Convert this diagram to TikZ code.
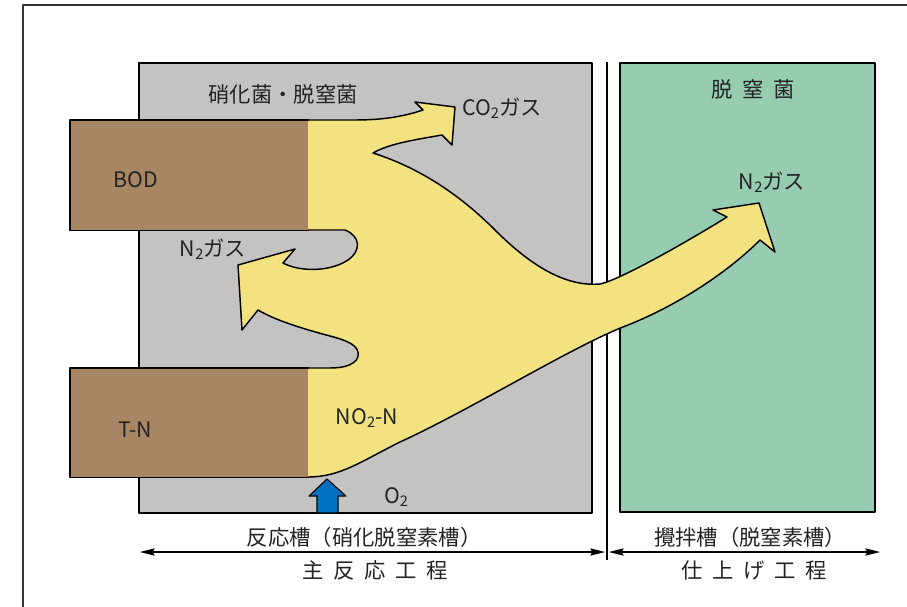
\documentclass[tikz,border=0pt]{standalone}
\usepackage{fontspec}
\setmainfont{Noto Sans CJK JP}
\usetikzlibrary{arrows.meta}
\definecolor{graybg}{RGB}{197,194,194}
\definecolor{greenbg}{RGB}{150,205,178}
\definecolor{brownbg}{RGB}{168,133,99}
\definecolor{yelbg}{RGB}{242,226,128}
\definecolor{blueo}{RGB}{0,112,192}
\definecolor{inkc}{RGB}{35,35,35}
\newcommand\subtwo{\raisebox{-0.12em}{\fontsize{11}{11}\selectfont 2}}
\newcommand\yelpathA{(308,120) -- (355,120) .. controls (385,120) and (405,116) .. (423,110) -- (415,102) -- (455,107) -- (452,145) -- (442,135) .. controls (420,139) and (390,143) .. (373,153) .. controls (420,168) and (460,195) .. (495,230) .. controls (530,265) and (565,287) .. (600,284) .. controls (620,280) and (690,240) .. (727,217) -- (713,210) -- (759,203) -- (775,252) -- (760,240) .. controls (730,270) and (680,305) .. (623,327) .. controls (570,348) and (470,410) .. (400,442) .. controls (360,462) and (340,477) .. (308,477)}
\newcommand\yelpathB{(308,368) -- (330,368) .. controls (352,368) and (360,360) .. (358,352) .. controls (356,344) and (345,340) .. (330,336) .. controls (300,328) and (275,320) .. (258,310) -- (242,330) -- (238,265) -- (295,249) -- (283,263) .. controls (300,272) and (330,272) .. (348,260) .. controls (362,250) and (360,236) .. (345,230) -- (308,230)}
\begin{document}
\begin{tikzpicture}[x=0.75pt,y=-0.75pt,line join=round,
  outl/.style={draw=black,line width=1.1pt},
  lbl/.style={font=\fontsize{16}{18}\selectfont,inner sep=0pt,text=inkc},
  spaced/.style={font=\fontsize{16}{18}\selectfont\addfontfeature{LetterSpace=45},inner sep=0pt,text=inkc},
  brownbox/.style={fill=brownbg,inner sep=0pt,anchor=north west,minimum width=178.5pt},
  dimarrow/.style={line width=0.8pt,{Stealth[length=11pt,width=5.5pt,inset=1.5pt]}-{Stealth[length=11pt,width=5.5pt,inset=1.5pt]}}]
\useasboundingbox (0,0) rectangle (907,607);
% outer frame
\draw[line width=1.1pt,black!80] (23,620) -- (23,5) -- (920,5);
% tanks
\draw[outl,fill=graybg] (139,63) rectangle (592,513);
\draw[outl,fill=greenbg] (620,63) rectangle (875,512);
\coordinate (vt) at (607,62);
\coordinate (vb) at (607,560);
\draw[line width=0.8pt] (vt) -- (vb);
% yellow flow
\fill[yelbg] \yelpathA -- \yelpathB -- cycle;
% brown inputs
\node[brownbox,minimum height=82.5pt] (bod) at (70,120) {};
\node[brownbox,minimum height=81.75pt] (tn) at (70,368) {};
% outlines
\draw[outl] \yelpathA;
\draw[outl] \yelpathB;
\draw[outl] (bod.north east) -- (bod.north west) -- (bod.south west) -- (bod.south east);
\draw[outl] (tn.north east) -- (tn.north west) -- (tn.south west) -- (tn.south east);
% O2 blue arrow
\draw[fill=blueo,line width=0.8pt] (327,479) -- (346,496) -- (338,496) -- (338,513) -- (317,513) -- (317,496) -- (309,496) -- cycle;
% labels
\node[lbl] (bact) at (283,94) {硝化菌・脱窒菌};
\node[lbl] (co2) at (502,108) {CO\subtwo ガス};
\node[spaced] (denit) at (753,89) {脱窒菌};
\node[lbl] (n2r) at (772,182) {N\subtwo ガス};
\node[lbl] (n2l) at (213,249) {N\subtwo ガス};
\node[lbl] (bodt) at (136,180) {BOD};
\node[lbl] (tnt) at (135,430) {T-N};
\node[lbl] (no2) at (367,418) {NO\subtwo -N};
\node[lbl] (o2) at (396,497) {O\subtwo};
% bottom
\node[lbl] (tank1) at (364,537) {反応槽（硝化脱窒素槽）};
\node[lbl] (tank2) at (750,537) {攪拌槽（脱窒素槽）};
\coordinate (a1) at (140,552);
\coordinate (a2) at (605,552);
\coordinate (a3) at (609,552);
\coordinate (a4) at (880,552);
\draw[dimarrow] (a1) -- (a2);
\draw[dimarrow] (a3) -- (a4);
\node[spaced] (proc1) at (375,570) {主反応工程};
\node[spaced] (proc2) at (754,570) {仕上げ工程};
\end{tikzpicture}
\end{document}
